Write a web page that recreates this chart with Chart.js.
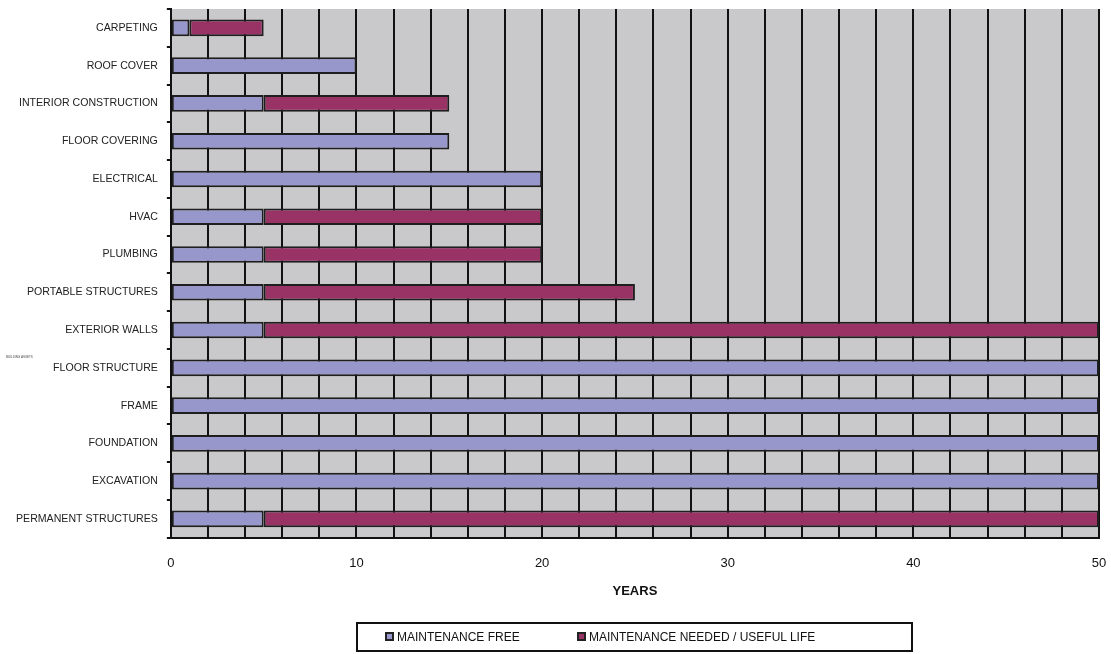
<!DOCTYPE html>
<html>
<head>
<meta charset="utf-8">
<script src="https://cdn.jsdelivr.net/npm/chart.js@4"></script>
<style>
  body { margin: 0; background: #fff; font-family: "Liberation Sans", Arial, sans-serif; }
  #wrap { position: relative; width: 1111px; height: 654px; }
  #legend {
    position: absolute; left: 356px; top: 622px; width: 553px; height: 26px;
    border: 2px solid #111; font-size: 12px; color: #111;
  }
  #legend span.item { position: absolute; top: 6px; white-space: nowrap; }
  #legend i {
    display: inline-block; width: 5px; height: 5px; border: 2px solid #222;
    margin-right: 3px; vertical-align: 0px;
  }
</style>
</head>
<body>
<div id="wrap">
  <canvas id="lifeChart" width="1111" height="654"></canvas>
  <div id="legend"></div>
</div>
<script>
const categories = [
  "CARPETING", "ROOF COVER", "INTERIOR CONSTRUCTION", "FLOOR COVERING",
  "ELECTRICAL", "HVAC", "PLUMBING", "PORTABLE STRUCTURES", "EXTERIOR WALLS",
  "FLOOR STRUCTURE", "FRAME", "FOUNDATION", "EXCAVATION", "PERMANENT STRUCTURES"
];
const maintenanceFree = [1, 10, 5, 15, 20, 5, 5, 5, 5, 50, 50, 50, 50, 5];
const maintenanceNeeded = [4, null, 10, null, null, 15, 15, 20, 45, null, null, null, null, 45];
const xTicks = [0, 10, 20, 30, 40, 50];
const seriesNames = ["MAINTENANCE FREE", "MAINTENANCE NEEDED / USEFUL LIFE"];
const seriesColors = ["#9797cb", "#993366"];

const plotBackground = {
  id: "plotBackground",
  beforeDraw(chart) {
    const { ctx, chartArea: a } = chart;
    ctx.save();
    ctx.fillStyle = "#c9c9cb";
    ctx.fillRect(a.left, a.top, a.right - a.left, a.bottom - a.top);
    ctx.restore();
  },
  afterDraw(chart) {
    const { ctx } = chart;
    ctx.save();
    ctx.fillStyle = "#444";
    ctx.font = "3px 'Liberation Sans', Arial, sans-serif";
    ctx.fillText("BUILDING ASSETS", 6, 358);
    ctx.restore();
  }
};

const chart = new Chart(document.getElementById("lifeChart"), {
  type: "bar",
  data: {
    labels: categories,
    datasets: [maintenanceFree, maintenanceNeeded].map((d, i) => ({
      label: seriesNames[i],
      data: d,
      backgroundColor: seriesColors[i],
      borderColor: "#1e1e1e",
      borderWidth: 2,
      borderSkipped: false,
      barPercentage: 0.44,
      categoryPercentage: 1,
    })),
  },
  options: {
    indexAxis: "y",
    responsive: false,
    animation: false,
    layout: { padding: { top: 9, right: 12, left: 7, bottom: 55 } },
    scales: {
      x: {
        stacked: true,
        min: 0,
        max: 50,
        afterFit: (s) => { s.paddingRight = 0; },
        border: { color: "#111", width: 2 },
        grid: { color: "#111", lineWidth: 2, tickLength: 0 },
        ticks: {
          stepSize: 2,
          padding: 18,
          color: "#111",
          font: { family: "'Liberation Sans', Arial, sans-serif", size: 13 },
          callback: (v) => (xTicks.includes(v) ? v : ""),
          autoSkip: false,
          maxRotation: 0,
        },
        title: {
          display: true,
          text: "YEARS",
          color: "#111",
          padding: { top: -6, bottom: 0 },
          font: { family: "'Liberation Sans', Arial, sans-serif", size: 13, weight: "bold" },
        },
      },
      y: {
        stacked: true,
        afterFit: (s) => { s.paddingTop = 0; },
        border: { color: "#111", width: 2 },
        grid: { color: "#111", drawOnChartArea: false, tickLength: 4, lineWidth: 2 },
        ticks: {
          padding: 9,
          color: "#222",
          font: { family: "'Liberation Sans', Arial, sans-serif", size: 10.6 },
        },
      },
    },
    plugins: {
      legend: { display: false },
      tooltip: { enabled: false },
    },
  },
  plugins: [plotBackground],
});

const legendEl = document.getElementById("legend");
const legendLeft = [27, 219];
seriesNames.forEach((name, i) => {
  const item = document.createElement("span");
  item.className = "item";
  item.style.left = legendLeft[i] + "px";
  item.innerHTML = `<i style="background:${seriesColors[i]}"></i>${name}`;
  legendEl.appendChild(item);
});
</script>
</body>
</html>
